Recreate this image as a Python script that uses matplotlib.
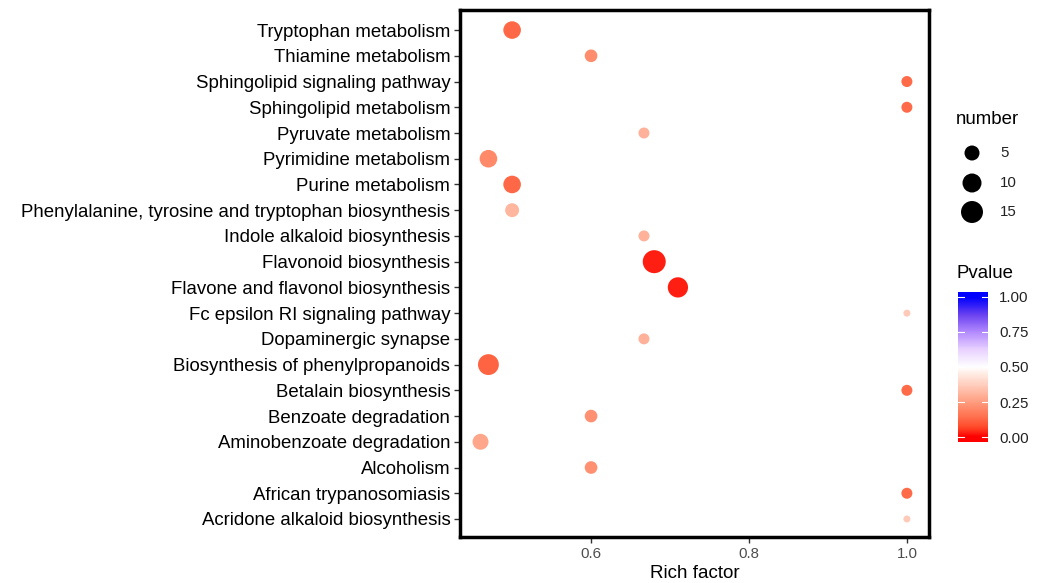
import numpy as np
import matplotlib
matplotlib.use("Agg")
import matplotlib.pyplot as plt
from matplotlib.colors import LinearSegmentedColormap

plt.rcParams['font.family'] = ['Liberation Sans', 'DejaVu Sans']

pathways = [
    "Tryptophan metabolism", "Thiamine metabolism", "Sphingolipid signaling pathway",
    "Sphingolipid metabolism", "Pyruvate metabolism", "Pyrimidine metabolism",
    "Purine metabolism", "Phenylalanine, tyrosine and tryptophan biosynthesis",
    "Indole alkaloid biosynthesis", "Flavonoid biosynthesis",
    "Flavone and flavonol biosynthesis", "Fc epsilon RI signaling pathway",
    "Dopaminergic synapse", "Biosynthesis of phenylpropanoids",
    "Betalain biosynthesis", "Benzoate degradation", "Aminobenzoate degradation",
    "Alcoholism", "African trypanosomiasis", "Acridone alkaloid biosynthesis",
]
rich_factor = [0.50, 0.60, 1.00, 1.00, 0.667, 0.47, 0.50, 0.50, 0.667, 0.68,
               0.71, 1.00, 0.667, 0.47, 1.00, 0.60, 0.46, 0.60, 1.00, 1.00]
number = [8, 3, 2, 2, 2, 8, 8, 4, 2, 17, 12, 1, 2, 13, 2, 3, 6, 3, 2, 1]
pvalue = [0.125, 0.21, 0.13, 0.13, 0.30, 0.20, 0.125, 0.31, 0.30, 0.03,
          0.03, 0.36, 0.30, 0.12, 0.13, 0.22, 0.27, 0.22, 0.13, 0.36]
x_ticks = [0.6, 0.8, 1.0]
size_breaks = [5, 10, 15]
p_ticks = [0.00, 0.25, 0.50, 0.75, 1.00]

# colour scale (red - white - blue, Lab-like interpolation)
nodes = [
    (0.0, (255, 0, 0)), (0.0625, (255, 70, 40)), (0.125, (255, 104, 70)),
    (0.1875, (255, 132, 99)), (0.25, (255, 158, 129)), (0.3125, (255, 183, 160)),
    (0.375, (255, 207, 191)), (0.4375, (255, 231, 222)), (0.5, (255, 255, 255)),
    (0.625, (233, 210, 255)), (0.75, (179, 139, 255)), (0.875, (107, 66, 240)),
    (1.0, (0, 0, 255)),
]
cmap = LinearSegmentedColormap.from_list(
    "rwb", [(t, tuple(c / 255 for c in rgb)) for t, rgb in nodes])

nmin, nmax = min(number), max(number)
DPI = 100


def size_pt2(n):
    # ggplot-like area palette: diameter (px) from 7 to 23
    frac = (np.asarray(n, float) - nmin) / (nmax - nmin)
    d_px = 7 + 16 * np.sqrt(np.clip(frac, 0, 1))
    return (d_px * 72 / DPI) ** 2


fig = plt.figure(figsize=(10.4, 5.83), dpi=DPI)
ax = fig.add_axes([460 / 1040, 1 - 537 / 583, 469 / 1040, 527 / 583])

ypos = np.arange(len(pathways))[::-1]
ax.scatter(rich_factor, ypos, s=size_pt2(number), c=pvalue, cmap=cmap,
           vmin=0, vmax=1, edgecolors='none', zorder=3)

ax.set_xlim(0.434, 1.028)
ax.set_ylim(-0.7, len(pathways) - 1 + 0.78)
ax.set_yticks(ypos)
ax.set_yticklabels(pathways, fontsize=13.4, color='black')
ax.set_xticks(x_ticks)
ax.set_xticklabels([f"{v:.1f}" for v in x_ticks], fontsize=10.8, color='#4d4d4d')
ax.set_xlabel("Rich factor", fontsize=13.5, color='black', labelpad=3)
ax.tick_params(axis='both', length=4, width=1, color='#333333', pad=3)
for sp in ax.spines.values():
    sp.set_linewidth(2.5)
    sp.set_color('black')

# size legend
fig.text(956 / 1040, 1 - 120 / 583, "number", fontsize=13.4, va='center', ha='left')
lax = fig.add_axes([955 / 1040, 1 - 225 / 583, 80 / 1040, 85 / 583])
lax.set_xlim(0, 80)
lax.set_ylim(0, 85)
lax.axis('off')
ly = [72, 42, 13]
lax.scatter([17] * 3, ly, s=size_pt2(size_breaks), c='black', edgecolors='none')
for yy, b in zip(ly, size_breaks):
    lax.text(45, yy, str(b), fontsize=10.8, va='center', ha='left', color='#222222')

# colour bar
fig.text(956 / 1040, 1 - 273 / 583, "Pvalue", fontsize=13.4, va='center', ha='left')
cax = fig.add_axes([958 / 1040, 1 - 442 / 583, 30 / 1040, 150 / 583])
lo, hi = -0.035, 1.035
grad = np.linspace(lo, hi, 256).reshape(-1, 1)
cax.imshow(grad, aspect='auto', cmap=cmap, vmin=0, vmax=1, origin='lower',
           extent=(0, 1, lo, hi))
cax.set_xlim(0, 1)
cax.set_ylim(lo, hi)
cax.set_xticks([])
cax.yaxis.tick_right()
cax.set_yticks(p_ticks)
cax.set_yticklabels([f"{v:.2f}" for v in p_ticks], fontsize=10.8, color='#222222')
cax.tick_params(axis='y', length=0, pad=8)
for v in p_ticks:
    cax.plot([0, 0.2], [v, v], color='white', lw=0.8)
    cax.plot([0.8, 1], [v, v], color='white', lw=0.8)
for sp in cax.spines.values():
    sp.set_visible(False)

fig.savefig("out.png", dpi=DPI)
